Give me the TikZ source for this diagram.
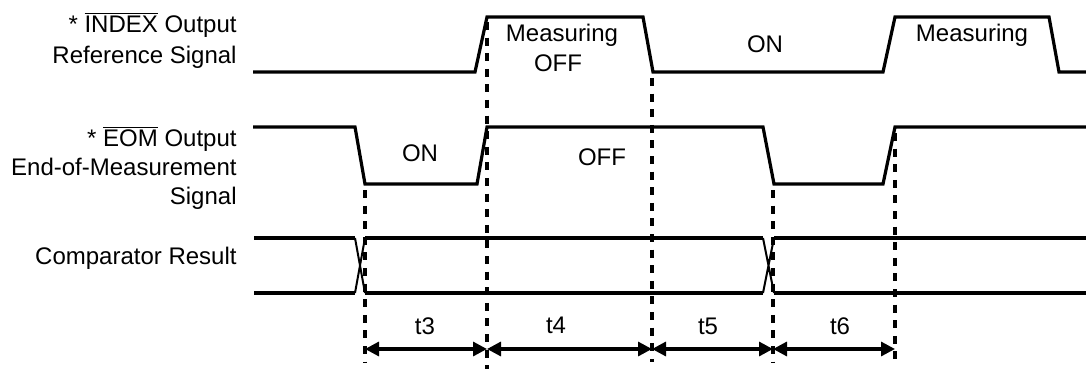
\documentclass[tikz,border=0pt]{standalone}
\usepackage{fontspec}
\setmainfont{Liberation Sans}
\usetikzlibrary{arrows.meta}
\begin{document}
\begin{tikzpicture}[x=0.5pt,y=-0.5pt,
  wave/.style={line width=1.6pt, line join=miter},
  cross/.style={line width=1pt},
  guide/.style={line width=1.8pt, dash pattern=on 4pt off 3.8pt},
  dim/.style={line width=1.6pt, {Triangle[length=7pt,width=7pt]}-{Triangle[length=7pt,width=7pt]}},
  lbl/.style={inner sep=0pt, font=\fontsize{12}{14}\selectfont},
  sig/.style={lbl, anchor=base east},
  txt/.style={lbl, anchor=base},
]
\useasboundingbox (0,0) rectangle (1086,369);
% signal names
\node[sig] (n1) at (237,33) {* $\overline{\mbox{INDEX}}$ Output};
\node[sig] (n2) at (237,64) {Reference Signal};
\node[sig] (n3) at (237,147) {* $\overline{\mbox{EOM}}$ Output};
\node[sig] (n4) at (237,176) {End-of-Measurement};
\node[sig] (n5) at (237,204) {Signal};
\node[sig] (n6) at (237,264) {Comparator Result};
% waveforms
\draw[wave] (253,72) -- (475,72) -- (487,17) -- (643,17) -- (653,72) -- (883,72) -- (895,17) -- (1049,17) -- (1059,72) -- (1090,72);
\draw[wave] (253,127) -- (355,127) -- (365,184) -- (477,184) -- (487,127) -- (763,127) -- (774,184) -- (883,184) -- (895,127) -- (1090,127);
\draw[wave] (254,238) -- (355,238);
\draw[wave] (254,293) -- (355,293);
\draw[wave] (365,238) -- (763,238);
\draw[wave] (365,293) -- (763,293);
\draw[wave] (774,238) -- (1090,238);
\draw[wave] (774,293) -- (1090,293);
\draw[cross] (355,238) -- (365,293) (355,293) -- (365,238);
\draw[cross] (763,238) -- (774,293) (763,293) -- (774,238);
% state labels
\node[txt] (m1) at (562,42) {Measuring};
\node[txt] (m2) at (558,72) {OFF};
\node[txt] (m3) at (765,53) {ON};
\node[txt] (m4) at (972,42) {Measuring};
\node[txt] (e1) at (420,162) {ON};
\node[txt] (e2) at (602,165) {OFF};
% guide lines
\coordinate (g1t) at (365,190); \coordinate (g1b) at (365,362);
\coordinate (g2t) at (487,22);  \coordinate (g2b) at (487,369);
\coordinate (g3t) at (652,78);  \coordinate (g3b) at (652,362);
\coordinate (g4t) at (773,190); \coordinate (g4b) at (773,362);
\coordinate (g5t) at (895,133); \coordinate (g5b) at (895,362);
\draw[guide] (g1t) -- (g1b);
\draw[guide] (g2t) -- (g2b);
\draw[guide] (g3t) -- (g3b);
\draw[guide] (g4t) -- (g4b);
\draw[guide] (g5t) -- (g5b);
% dimension arrows
\coordinate (d1) at (365,349);
\coordinate (d2) at (487,349);
\coordinate (d3) at (652,349);
\coordinate (d4) at (773,349);
\coordinate (d5) at (895,349);
\draw[dim] (d1) -- (d2);
\draw[dim] (d2) -- (d3);
\draw[dim] (d3) -- (d4);
\draw[dim] (d4) -- (d5);
\node[txt] (t3) at (425,334) {t3};
\node[txt] (t4) at (556,333) {t4};
\node[txt] (t5) at (708,334) {t5};
\node[txt] (t6) at (840,334) {t6};
\end{tikzpicture}
\end{document}
